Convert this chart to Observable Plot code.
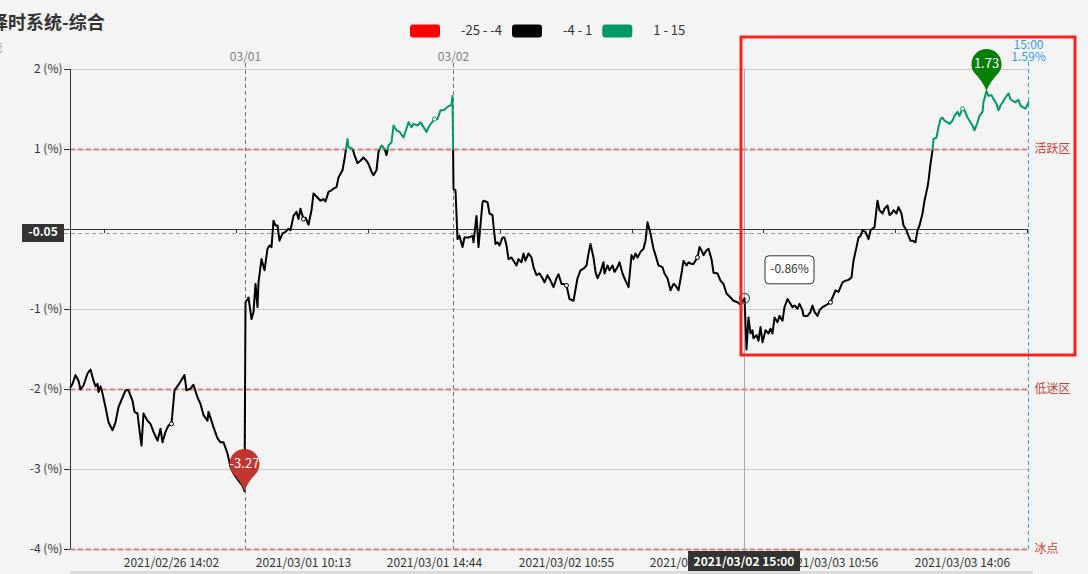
<!DOCTYPE html>
<html><head><meta charset="utf-8">
<script src="https://cdn.jsdelivr.net/npm/d3@7"></script>
<script src="https://cdn.jsdelivr.net/npm/@observablehq/plot@0.6"></script>
<style>
html,body{margin:0;padding:0;background:#f4f4f4;overflow:hidden;}
#chart{position:relative;width:1088px;height:574px;}
</style></head><body><div id="chart"></div>
<script>
// ---- data: [bar index, value %] per trading day ----
const seg0226 = [[0,-1.97],[2,-1.93],[5,-1.82],[8,-1.89],[10,-2.0],[13,-1.95],[17,-1.80],[20,-1.75],[23,-1.89],[25,-1.96],[27,-1.93],[28,-2.03],[30,-1.96],[32,-2.05],[35,-2.22],[38,-2.41],[42,-2.51],[45,-2.41],[48,-2.22],[52,-2.10],[55,-2.01],[58,-2.01],[62,-2.14],[64,-2.28],[67,-2.30],[69,-2.51],[71,-2.70],[73,-2.30],[77,-2.39],[80,-2.43],[83,-2.53],[87,-2.64],[90,-2.49],[92,-2.66],[95,-2.53],[98,-2.45],[101,-2.43],[104,-2.01],[108,-1.94],[114,-1.82],[116,-2.01],[120,-1.99],[123,-1.94],[127,-2.10],[130,-2.18],[133,-2.32],[137,-2.39],[138,-2.28],[142,-2.43],[143,-2.47],[147,-2.61],[150,-2.66],[153,-2.66],[157,-2.80],[160,-2.97],[163,-3.05],[168,-3.14],[172,-3.20],[174,-3.27]];
const seg0301 = [[175,-0.91],[178,-0.85],[181,-1.12],[183,-1.03],[185,-0.68],[187,-0.97],[188,-0.66],[191,-0.37],[194,-0.51],[197,-0.24],[199,-0.20],[201,-0.22],[203,0.11],[205,0.05],[207,0.05],[209,-0.14],[212,-0.05],[215,-0.03],[218,0.01],[220,-0.01],[223,0.17],[226,0.22],[228,0.13],[230,0.26],[233,0.13],[235,0.15],[238,0.06],[241,0.24],[243,0.45],[247,0.40],[250,0.36],[253,0.38],[255,0.35],[258,0.47],[261,0.49],[263,0.51],[266,0.53],[268,0.65],[272,0.74],[274,0.88],[277,1.13],[278,1.03],[282,1.01],[284,0.93],[287,0.83],[290,0.86],[293,0.90],[296,0.86],[298,0.82],[301,0.72],[303,0.68],[306,0.74],[308,0.97],[311,1.05],[314,1.01],[316,0.93],[318,1.05],[321,1.09],[323,1.30],[326,1.24],[329,1.22],[333,1.15],[337,1.30],[338,1.34],[341,1.28],[343,1.32],[347,1.30],[350,1.34],[353,1.28],[356,1.22],[359,1.30],[364,1.38],[367,1.38],[370,1.49],[373,1.49],[375,1.51],[378,1.54],[381,1.56],[382,1.67]];
const seg0302 = [[383,0.51],[385,0.49],[387,-0.12],[389,-0.08],[392,-0.22],[394,-0.10],[398,-0.10],[402,-0.08],[403,-0.16],[406,0.17],[408,-0.22],[412,0.34],[413,0.36],[417,0.34],[419,0.20],[422,0.18],[423,0.05],[425,-0.18],[427,-0.16],[429,-0.20],[432,-0.10],[434,-0.10],[436,-0.20],[438,-0.37],[441,-0.35],[443,-0.39],[446,-0.45],[448,-0.37],[451,-0.41],[453,-0.30],[455,-0.39],[458,-0.30],[461,-0.35],[463,-0.47],[466,-0.57],[469,-0.55],[472,-0.61],[474,-0.66],[477,-0.57],[480,-0.64],[483,-0.72],[486,-0.61],[488,-0.56],[491,-0.68],[493,-0.68],[496,-0.70],[499,-0.87],[503,-0.89],[507,-0.61],[510,-0.51],[513,-0.49],[516,-0.45],[518,-0.30],[520,-0.18],[523,-0.35],[525,-0.53],[527,-0.61],[530,-0.53],[533,-0.41],[534,-0.55],[537,-0.45],[539,-0.51],[542,-0.45],[544,-0.53],[547,-0.47],[549,-0.41],[552,-0.55],[555,-0.64],[558,-0.72],[561,-0.32],[563,-0.37],[565,-0.30],[567,-0.35],[570,-0.28],[573,-0.24],[575,-0.14],[577,0.09],[580,-0.05],[583,-0.24],[585,-0.32],[588,-0.45],[592,-0.47],[594,-0.55],[597,-0.61],[600,-0.76],[603,-0.68],[605,-0.70],[608,-0.76],[611,-0.55],[613,-0.39],[616,-0.45],[618,-0.41],[621,-0.43],[623,-0.43],[627,-0.35],[629,-0.22],[631,-0.26],[633,-0.32],[636,-0.26],[638,-0.24],[641,-0.37],[643,-0.54],[647,-0.55],[650,-0.64],[653,-0.68],[656,-0.80],[660,-0.85],[663,-0.89],[667,-0.91],[670,-0.94],[674,-0.86]];
const seg0303 = [[676,-1.50],[678,-1.10],[680,-1.30],[682,-1.26],[683,-1.36],[686,-1.32],[688,-1.39],[690,-1.22],[692,-1.41],[695,-1.26],[698,-1.30],[700,-1.24],[702,-1.30],[704,-1.10],[707,-1.16],[709,-1.08],[712,-1.14],[714,-0.97],[717,-0.87],[719,-0.91],[722,-0.97],[724,-0.95],[727,-0.99],[729,-0.93],[732,-1.01],[733,-1.08],[737,-1.08],[740,-1.03],[742,-0.95],[744,-1.03],[747,-1.08],[749,-1.01],[752,-0.97],[755,-0.95],[760,-0.91],[762,-0.85],[765,-0.76],[768,-0.78],[770,-0.72],[772,-0.66],[775,-0.64],[778,-0.63],[781,-0.60],[783,-0.39],[786,-0.22],[788,-0.10],[790,-0.08],[792,-0.01],[795,-0.03],[798,-0.12],[800,-0.01],[802,0.01],[804,0.03],[807,0.36],[809,0.24],[812,0.20],[814,0.26],[817,0.30],[819,0.18],[821,0.20],[823,0.24],[826,0.20],[828,0.28],[831,0.20],[833,0.05],[836,-0.01],[838,-0.08],[840,-0.14],[842,-0.14],[845,-0.16],[847,-0.01],[849,0.05],[852,0.20],[854,0.36],[857,0.53],[858,0.61],[860,0.82],[862,0.99],[863,1.13],[866,1.15],[868,1.28],[870,1.38],[872,1.40],[874,1.36],[877,1.34],[879,1.32],[882,1.36],[884,1.42],[887,1.47],[889,1.42],[892,1.51],[894,1.49],[897,1.40],[899,1.36],[902,1.30],[904,1.24],[907,1.34],[909,1.42],[912,1.47],[913,1.59],[916,1.73],[918,1.67],[921,1.68],[923,1.63],[926,1.57],[928,1.49],[930,1.55],[932,1.59],[935,1.65],[938,1.70],[940,1.63],[942,1.61],[945,1.59],[948,1.62],[950,1.55],[952,1.53],[955,1.51],[958,1.59]];

const xTickIndex  = [101, 233, 364, 496, 627, 760, 892];
const xTickLabels = ["2021/02/26 14:02","2021/03/01 10:13","2021/03/01 14:44","2021/03/02 10:55","2021/03/02 13:58","2021/03/03 10:56","2021/03/03 14:06"];
const zeroTickIndex = [34, 166, 298, 430, 562, 693, 825, 957];
const dayStartIndex = [175, 383];
const dayLabels     = ["03/01", "03/02"];
const yTicks  = [2, 1, 0, -1, -2, -3, -4];
const zoneValues = [1, -2, -4];
const zoneLabels = ["活跃区", "低迷区", "冰点"];
const avgValue = -0.05;
const pointerIndex = 674;
const pointerLabel = "2021/03/02 15:00";
const lastTimeLabel = "15:00";
const pieceMin    = [-25, -4, 1];
const pieceMax    = [-4, 1, 15];
const pieceColors = ["#ff0000", "#000000", "#009966"];
const highlightT  = [671, 1005];
const highlightV  = [-1.575, 2.4];
const lastLineTop = 2.09;
const titleText = "择时系统-综合";
const subtitleText = "系统";

// ---- build ----
const series = [...seg0226, ...seg0301, ...seg0302, ...seg0303].map(([t, v]) => ({t, v}));
const lastPt = series[series.length - 1];
const minPt = d3.least(series, d => d.v);
const maxPt = d3.greatest(series, d => d.v);
const pins = [
  {...minPt, label: minPt.v.toFixed(2), color: "#c23531"},
  {...maxPt, label: maxPt.v.toFixed(2), color: "#008000"}
];
const pointerPt = series.find(d => d.t === pointerIndex);
const zoneColor = v => pieceColors[pieceMin.findIndex((m, i) => v >= m && v < pieceMax[i])] || "#000";
const symbolPts = series.filter(d => xTickIndex.includes(d.t));

const pinSymbol = {
  draw(ctx) {
    const c = 27, r = 15;
    const a = Math.acos(r / c);
    const px = r * Math.sin(a), py = -c + r * Math.cos(a);
    const ang = Math.atan2(py + c, px);
    ctx.moveTo(0, 0);
    ctx.quadraticCurveTo(-3, -9, -px, py);
    ctx.arc(0, -c, r, Math.PI - ang, 2 * Math.PI + ang, false);
    ctx.quadraticCurveTo(3, -9, 0, 0);
    ctx.closePath();
  }
};

const font = '"Noto Sans CJK SC","Noto Sans",sans-serif';
const lastT = lastPt.t;

const chart = Plot.plot({
  width: 1088, height: 574,
  marginLeft: 70, marginRight: 60, marginTop: 69, marginBottom: 25,
  style: {background: "#f4f4f4", fontFamily: font, fontSize: "12px", color: "#333", overflow: "visible"},
  x: {domain: [0, lastT], axis: null},
  y: {domain: [d3.min(yTicks), d3.max(yTicks)], ticks: yTicks.length - 1, tickSize: 6, tickPadding: 2,
      tickFormat: d => d === 0 ? "" : `${d} (%)`, label: null},
  color: {type: "identity"},
  marks: [
    Plot.ruleY(yTicks.filter(d => d !== 0), {stroke: "#cccccc"}),
    Plot.ruleY(zoneValues, {stroke: "#dc7c7c", strokeDasharray: "5,3", strokeWidth: 2}),
    Plot.ruleX(dayStartIndex, {stroke: "#777", strokeDasharray: "4,3", insetTop: -6}),
    Plot.ruleX([pointerIndex], {stroke: "#aaa", insetBottom: -4}),
    Plot.ruleX([lastT], {y1: d3.min(yTicks), y2: lastLineTop, stroke: "#3399ff", strokeDasharray: "4,3"}),
    Plot.ruleY([0], {stroke: "#333"}),
    Plot.ruleX(zeroTickIndex, {y1: 0, y2: -0.05, stroke: "#333"}),
    Plot.ruleY([avgValue], {stroke: "#999", strokeDasharray: "4,3", insetLeft: -6}),
    Plot.ruleX([0], {stroke: "#333"}),
    Plot.line(series, {x: "t", y: "v", stroke: "url(#vm)", strokeWidth: 2, curve: "linear"}),
    Plot.dot(symbolPts, {x: "t", y: "v", r: 2, fill: "#fff", stroke: d => zoneColor(d.v), strokeWidth: 1}),
    Plot.dot([pointerPt], {x: "t", y: "v", r: 5, fill: "none", stroke: "#555", strokeWidth: 1.2}),
    Plot.dot(pins, {x: "t", y: "v", symbol: pinSymbol, r: 15, fill: "color", stroke: "none"}),
    Plot.text(pins, {x: "t", y: "v", text: "label", dy: -27, fill: "#fff", fontSize: 13}),
    Plot.text(dayStartIndex, {x: d => d, text: (d, i) => dayLabels[i], frameAnchor: "top", lineAnchor: "middle", dy: -12, fill: "#808080", fontSize: 12}),
    Plot.text(xTickIndex, {x: d => d, text: (d, i) => xTickLabels[i], frameAnchor: "bottom", lineAnchor: "middle", dy: 14, fill: "#333", fontSize: 12}),
    Plot.text(zoneValues, {y: d => d, text: (d, i) => zoneLabels[i], frameAnchor: "right", dx: 6, textAnchor: "start", fill: "#c9403c", fontSize: 12}),
    Plot.text([lastPt], {x: "t", text: () => lastTimeLabel, frameAnchor: "top", lineAnchor: "middle", dy: -24, fill: "#3399ff", fontSize: 12}),
    Plot.text([lastPt], {x: "t", text: d => d.v.toFixed(2) + "%", frameAnchor: "top", lineAnchor: "middle", dy: -12, fill: "#3399ff", fontSize: 12}),
    Plot.rect([0], {x1: highlightT[0], x2: highlightT[1], y1: highlightV[0], y2: highlightV[1], fill: "none", stroke: "#ff2020", strokeWidth: 3})
  ]
});

document.getElementById("chart").appendChild(chart);

// ---- overlays positioned through the plot's scales ----
const sx = chart.scale("x"), sy = chart.scale("y");
const X = v => sx.apply(v), Y = v => sy.apply(v);
const svg = d3.select(chart);

// visual map gradient for the line
const defs = svg.insert("defs", ":first-child");
const grad = defs.append("linearGradient").attr("id", "vm").attr("gradientUnits", "userSpaceOnUse")
  .attr("x1", 0).attr("x2", 0).attr("y1", Y(pieceMin[2])).attr("y2", Y(pieceMin[1]));
[[0, pieceColors[2]], [0, pieceColors[1]], [1, pieceColors[1]], [1, pieceColors[0]]]
  .forEach(([o, c]) => grad.append("stop").attr("offset", o).attr("stop-color", c));

const ov = svg.append("g").style("font-family", font).attr("text-anchor", "start");

// title (clipped at the left edge as in the source)
ov.append("text").attr("x", -10).attr("y", 29).attr("font-size", 18).attr("font-weight", "bold").attr("fill", "#333").text(titleText);
ov.append("text").attr("x", 3).attr("y", 52).attr("text-anchor", "end").attr("font-size", 12).attr("fill", "#aaa").text(subtitleText);

// legend
let lx = 410;
pieceMin.forEach((m, i) => {
  ov.append("rect").attr("x", lx).attr("y", 24.5).attr("width", 30).attr("height", 13).attr("rx", 3).attr("fill", pieceColors[i]);
  const t = ov.append("text").attr("x", lx + 51).attr("y", 31).attr("dominant-baseline", "middle").attr("font-size", 13).attr("fill", "#333").text(`${m} - ${pieceMax[i]}`);
  lx = lx + 51 + t.node().getComputedTextLength() + 10;
});

// average label on the left
ov.append("rect").attr("x", 22).attr("y", Y(avgValue) - 9).attr("width", 42).attr("height", 18).attr("fill", "#333");
ov.append("text").attr("x", 43).attr("y", Y(avgValue)).attr("text-anchor", "middle").attr("dominant-baseline", "middle")
  .attr("font-size", 12).attr("font-weight", "bold").attr("fill", "#fff").text(avgValue.toFixed(2));

// axis pointer label
const px0 = X(pointerIndex);
ov.append("rect").attr("x", px0 - 56).attr("y", Y(d3.min(yTicks)) + 2).attr("width", 112).attr("height", 24).attr("fill", "#333");
ov.append("text").attr("x", px0).attr("y", Y(d3.min(yTicks)) + 14).attr("text-anchor", "middle").attr("dominant-baseline", "middle")
  .attr("font-size", 12).attr("font-weight", "bold").attr("fill", "#fff").text(pointerLabel);

// tooltip
const ty = Y(pointerPt.v);
ov.append("rect").attr("x", px0 + 21).attr("y", ty - 42).attr("width", 49).attr("height", 28).attr("rx", 4)
  .attr("fill", "#fff").attr("stroke", "#333");
ov.append("text").attr("x", px0 + 45.5).attr("y", ty - 28).attr("text-anchor", "middle").attr("dominant-baseline", "middle")
  .attr("font-size", 12).attr("fill", "#333").text(pointerPt.v.toFixed(2) + "%");

// slider strip at bottom
ov.append("rect").attr("x", X(0)).attr("y", 571).attr("width", X(lastT) - X(0) + 5).attr("height", 3).attr("fill", "#dcdcdc");
</script></body></html>
